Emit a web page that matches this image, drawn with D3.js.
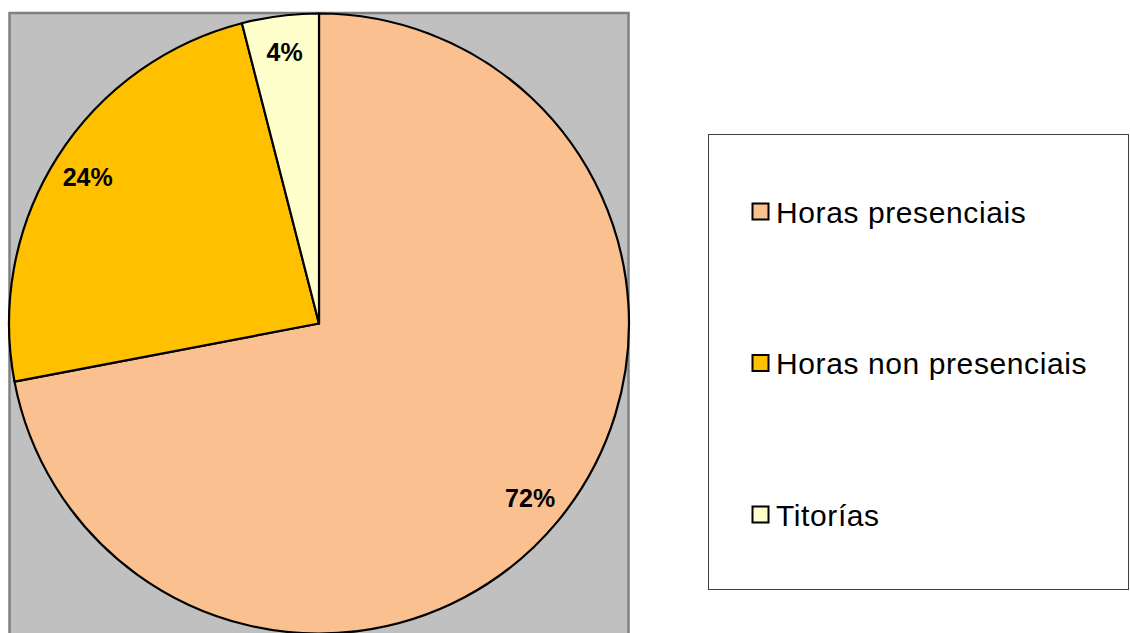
<!DOCTYPE html>
<html>
<head>
<meta charset="utf-8">
<script src="https://cdn.jsdelivr.net/npm/d3@7/dist/d3.min.js"></script>
<style>
  html, body { margin: 0; padding: 0; background: #fff; }
  svg { display: block; font-family: "Liberation Sans", Arial, sans-serif; }
</style>
</head>
<body>
<svg id="chart" width="1130" height="633"></svg>
<script>
const categories = ["Horas presenciais", "Horas non presenciais", "Titorías"];
const values = [72, 24, 4];
const labels = ["72%", "24%", "4%"];
const colors = ["#FAC090", "#FFC000", "#FFFFCC"];

const svg = d3.select("#chart");

// plot area
svg.append("rect")
  .attr("x", 9.5).attr("y", 13)
  .attr("width", 619).attr("height", 640)
  .attr("fill", "#C0C0C0")
  .attr("stroke", "#808080")
  .attr("stroke-width", 2.5);

const cx = 319, cy = 323.5, R = 310;
const g = svg.append("g").attr("transform", `translate(${cx},${cy})`);

const pie = d3.pie().sort(null).value(d => d)(values);
const arc = d3.arc().innerRadius(0).outerRadius(R);
const labelArc = d3.arc().innerRadius(274).outerRadius(274);

g.selectAll("path.slice")
  .data(pie)
  .join("path")
  .attr("class", "slice")
  .attr("d", arc)
  .attr("fill", (d, i) => colors[i])
  .attr("stroke", "#000")
  .attr("stroke-width", 2.2)
  .attr("stroke-linejoin", "round");

g.selectAll("text.lbl")
  .data(pie)
  .join("text")
  .attr("class", "lbl")
  .attr("transform", d => `translate(${labelArc.centroid(d)})`)
  .attr("text-anchor", "middle")
  .attr("dominant-baseline", "central")
  .attr("font-size", 25)
  .attr("font-weight", "bold")
  .attr("fill", "#000")
  .text((d, i) => labels[i]);

// legend
const legend = svg.append("g");
legend.append("rect")
  .attr("x", 708.5).attr("y", 134.5)
  .attr("width", 420).attr("height", 455)
  .attr("fill", "#fff")
  .attr("stroke", "#404040")
  .attr("stroke-width", 1);

const ly = d3.scalePoint().domain(categories).range([212, 515]);

const items = legend.selectAll("g.item")
  .data(categories)
  .join("g")
  .attr("class", "item")
  .attr("transform", d => `translate(0,${ly(d)})`);

items.append("rect")
  .attr("x", 752.5).attr("y", -8.5)
  .attr("width", 16).attr("height", 16)
  .attr("fill", (d, i) => colors[i])
  .attr("stroke", "#000")
  .attr("stroke-width", 2);

items.append("text")
  .attr("x", 776)
  .attr("y", 0)
  .attr("dominant-baseline", "central")
  .attr("font-size", 30)
  .attr("letter-spacing", 0.6)
  .attr("fill", "#000")
  .text(d => d);
</script>
</body>
</html>
